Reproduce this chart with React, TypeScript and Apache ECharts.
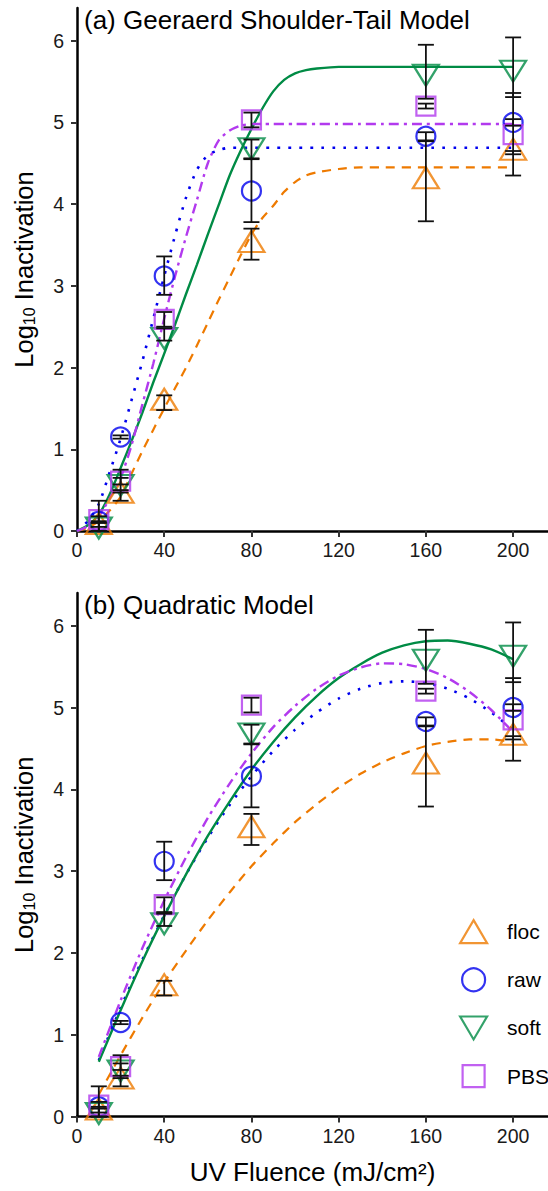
import React, { useEffect, useRef } from "react";
import * as echarts from "echarts";

const FONT = "'Liberation Sans', Arial, Helvetica, sans-serif";

// Observed data (UV fluence, mJ/cm2)
const doses = [10, 20, 40, 80, 160, 200];
const flocMean = [0.05, 0.43, 1.57, 3.5, 4.28, 4.63];
const flocLow = [0.0, 0.37, 1.48, 3.32, 3.79, 4.61];
const flocHigh = [0.1, 0.5, 1.66, 3.7, 4.77, 4.65];
const rawMean = [0.12, 1.15, 3.12, 4.16, 4.83, 5.0];
const rawLow = [0.0, 1.13, 2.89, 3.78, 4.78, 4.96];
const rawHigh = [0.37, 1.17, 3.36, 4.55, 4.88, 5.04];
const softMean = [0.08, 0.6, 2.4, 4.72, 5.62, 5.67];
const softLow = [0.05, 0.47, 2.33, 4.56, 5.29, 5.31];
const softHigh = [0.12, 0.75, 2.48, 4.79, 5.95, 6.04];
const pbsMean = [0.14, 0.61, 2.59, 5.03, 5.2, 4.85];
const pbsLow = [0.1, 0.57, 2.5, 4.94, 5.17, 4.35];
const pbsHigh = [0.18, 0.65, 2.68, 5.12, 5.23, 5.36];

// (a) Geeraerd shoulder-tail fitted curves
const geeX = [0, 5, 10, 15, 20, 25, 30, 35, 40, 45, 50, 55, 60, 65, 70, 75, 80, 85, 90, 95, 100, 105, 110, 120, 130, 140, 160, 180, 200];
const geeFloc = [0, 0.04, 0.12, 0.25, 0.42, 0.7, 0.98, 1.24, 1.5, 1.75, 2.0, 2.27, 2.55, 2.83, 3.1, 3.37, 3.63, 3.83, 3.98, 4.15, 4.27, 4.35, 4.39, 4.43, 4.45, 4.45, 4.45, 4.45, 4.45];
const geeRaw = [0, 0.12, 0.33, 0.72, 1.13, 1.6, 2.08, 2.6, 3.12, 3.62, 4.08, 4.42, 4.6, 4.66, 4.69, 4.69, 4.69, 4.69, 4.69, 4.69, 4.69, 4.69, 4.69, 4.69, 4.69, 4.69, 4.69, 4.69, 4.69];
const geeSoft = [0, 0.07, 0.2, 0.45, 0.77, 1.1, 1.45, 1.82, 2.17, 2.53, 2.9, 3.26, 3.63, 3.99, 4.35, 4.65, 4.92, 5.17, 5.38, 5.52, 5.6, 5.64, 5.66, 5.68, 5.68, 5.68, 5.68, 5.68, 5.68];
const geePbs = [0, 0.06, 0.18, 0.4, 0.65, 1.05, 1.55, 2.05, 2.6, 3.12, 3.6, 4.05, 4.5, 4.78, 4.9, 4.96, 4.98, 4.98, 4.98, 4.98, 4.98, 4.98, 4.98, 4.98, 4.98, 4.98, 4.98, 4.98, 4.98];

// (b) Quadratic fitted curves
const quadX = [10, 20, 30, 40, 50, 60, 70, 80, 90, 100, 110, 120, 130, 140, 150, 160, 170, 180, 190, 200];
const quadFloc = [0.27, 0.75, 1.21, 1.64, 2.03, 2.4, 2.74, 3.06, 3.34, 3.6, 3.82, 4.02, 4.19, 4.33, 4.44, 4.53, 4.58, 4.61, 4.61, 4.58];
const quadRaw = [0.69, 1.33, 1.92, 2.46, 2.96, 3.41, 3.81, 4.16, 4.47, 4.73, 4.94, 5.11, 5.23, 5.3, 5.32, 5.3, 5.23, 5.11, 4.94, 4.73];
const quadSoft = [0.67, 1.3, 1.9, 2.45, 2.96, 3.43, 3.85, 4.24, 4.58, 4.88, 5.14, 5.36, 5.53, 5.67, 5.76, 5.81, 5.82, 5.78, 5.71, 5.59];
const quadPbs = [0.73, 1.42, 2.06, 2.64, 3.17, 3.65, 4.07, 4.44, 4.76, 5.02, 5.23, 5.39, 5.49, 5.54, 5.53, 5.47, 5.36, 5.19, 4.97, 4.7];

const yTicks = [0, 1, 2, 3, 4, 5, 6];
const xTicks = [0, 40, 80, 120, 160, 200];
const groupNames = ["floc", "raw", "soft", "PBS"];

const COLORS: Record<string, string> = {
  floc: "#EE7A00",
  raw: "#0000EE",
  soft: "#008B45",
  PBS: "#B23AEE",
};

const DOWN_TRI = "path://M0,0L20,0L10,17Z";

const pair = (xs: number[], ys: number[]) => xs.map((x, i) => [x, ys[i]]);

export default function App() {
  const ref = useRef<HTMLDivElement>(null);

  useEffect(() => {
    if (!ref.current) return;
    const chart = echarts.init(ref.current, undefined, { renderer: "svg" });

    const means: Record<string, number[]> = { floc: flocMean, raw: rawMean, soft: softMean, PBS: pbsMean };
    const lows: Record<string, number[]> = { floc: flocLow, raw: rawLow, soft: softLow, PBS: pbsLow };
    const highs: Record<string, number[]> = { floc: flocHigh, raw: rawHigh, soft: softHigh, PBS: pbsHigh };
    const symbols: Record<string, any> = {
      floc: { symbol: "triangle", symbolSize: [26, 21], symbolOffset: [0, -3.5] },
      raw: { symbol: "circle", symbolSize: 19, symbolOffset: [0, 0] },
      soft: { symbol: DOWN_TRI, symbolSize: [26, 21], symbolOffset: [0, 3.5] },
      PBS: { symbol: "rect", symbolSize: 19, symbolOffset: [0, 0] },
    };
    const lineTypes: Record<string, any> = {
      floc: { type: [9, 7], width: 2.2 },
      raw: { type: [2.6, 8.4], width: 2.6 },
      soft: { type: "solid", width: 2.4 },
      PBS: { type: [10, 5, 3, 5], width: 2.4 },
    };
    const curves = [
      { floc: geeFloc, raw: geeRaw, soft: geeSoft, PBS: geePbs } as Record<string, number[]>,
      { floc: quadFloc, raw: quadRaw, soft: quadSoft, PBS: quadPbs } as Record<string, number[]>,
    ];
    const curveX = [geeX, quadX];

    const series: any[] = [];
    [0, 1].forEach((p) => {
      groupNames.forEach((g) => {
        series.push({
          type: "line",
          name: g + " fit " + p,
          xAxisIndex: p,
          yAxisIndex: p,
          data: pair(curveX[p], curves[p][g]),
          showSymbol: false,
          symbol: "none",
          smooth: 0.25,
          silent: true,
          z: 2,
          lineStyle: { color: COLORS[g], width: lineTypes[g].width, type: lineTypes[g].type, cap: "butt" },
        });
      });
      groupNames.forEach((g) => {
        series.push({
          type: "scatter",
          name: g,
          xAxisIndex: p,
          yAxisIndex: p,
          data: pair(doses, means[g]),
          ...symbols[g],
          z: 3,
          itemStyle: { color: "rgba(0,0,0,0)", borderColor: COLORS[g], borderWidth: 2.2 },
        });
      });
      const errRows: number[][] = [];
      groupNames.forEach((g) => {
        doses.forEach((d, i) => errRows.push([d, lows[g][i], highs[g][i]]));
      });
      series.push({
        type: "custom",
        name: "err" + p,
        xAxisIndex: p,
        yAxisIndex: p,
        data: errRows,
        encode: { x: 0, y: [1, 2] },
        z: 4,
        silent: true,
        renderItem: (params: any, api: any) => {
          const x = api.value(0);
          const lo = api.coord([x, api.value(1)]);
          const hi = api.coord([x, api.value(2)]);
          const w = 8;
          const style = { stroke: "#111", lineWidth: 1.8, fill: null };
          return {
            type: "group",
            children: [
              { type: "line", shape: { x1: lo[0], y1: lo[1], x2: hi[0], y2: hi[1] }, style },
              { type: "line", shape: { x1: lo[0] - w, y1: lo[1], x2: lo[0] + w, y2: lo[1] }, style },
              { type: "line", shape: { x1: hi[0] - w, y1: hi[1], x2: hi[0] + w, y2: hi[1] }, style },
            ],
          };
        },
      });
    });

    const yAxisCfg = (p: number) => ({
      type: "value",
      gridIndex: p,
      min: 0,
      max: 6.4,
      axisLine: { show: true, onZero: false, lineStyle: { color: "#000", width: 2.5 } },
      axisTick: { show: true, length: 6, lineStyle: { color: "#333", width: 2 }, customValues: yTicks },
      axisLabel: { customValues: yTicks, fontSize: 19.5, color: "#1a1a1a", margin: 13, fontFamily: FONT },
      splitLine: { show: false },
      name: "{a|Log}{b|10}{a| Inactivation}",
      nameLocation: "middle",
      nameGap: 40,
      nameTextStyle: {
        fontFamily: FONT,
        color: "#000",
        fontSize: 25.5,
        rich: {
          a: { fontSize: 25.5, fontFamily: FONT, color: "#000" },
          b: { fontSize: 16, fontFamily: FONT, color: "#000", verticalAlign: "bottom" },
        },
      },
    });

    const xAxisCfg = (p: number) => ({
      type: "value",
      gridIndex: p,
      min: 0,
      max: 216,
      axisLine: { show: true, onZero: false, lineStyle: { color: "#000", width: 2.5 } },
      axisTick: { show: true, length: 6, lineStyle: { color: "#333", width: 2 }, customValues: xTicks },
      axisLabel: { customValues: xTicks, fontSize: 19.5, color: "#1a1a1a", margin: 9, fontFamily: FONT },
      splitLine: { show: false },
      name: p === 1 ? "UV Fluence (mJ/cm²)" : "",
      nameLocation: "middle",
      nameGap: 42,
      nameTextStyle: { fontFamily: FONT, color: "#000", fontSize: 26 },
    });

    chart.setOption({
      animation: false,
      backgroundColor: "#fff",
      textStyle: { fontFamily: FONT },
      grid: [
        { left: 77, top: 8, width: 471, height: 523 },
        { left: 77, top: 593, width: 471, height: 523.6 },
      ],
      xAxis: [xAxisCfg(0), xAxisCfg(1)],
      yAxis: [yAxisCfg(0), yAxisCfg(1)],
      legend: {
        data: [
          { name: "floc" },
          { name: "raw" },
          { name: "soft" },
          { name: "PBS", icon: "path://M0,0M27,23M2.5,0.5H24.5V22.5H2.5Z" },
        ],
        orient: "vertical",
        left: 454,
        top: 914,
        itemWidth: 27,
        itemHeight: 23,
        itemGap: 23,
        selectedMode: false,
        itemStyle: { color: "rgba(0,0,0,0)", borderWidth: 2.2 },
        textStyle: { fontSize: 21, color: "#000", fontFamily: FONT, padding: [0, 0, 0, 15] },
      },
      graphic: [
        {
          type: "text",
          x: 84,
          y: 20,
          style: {
            text: "(a) Geeraerd Shoulder-Tail Model",
            fontSize: 26,
            fontFamily: FONT,
            fill: "#000",
            align: "left",
            verticalAlign: "middle",
          },
        },
        {
          type: "text",
          x: 84,
          y: 605,
          style: {
            text: "(b) Quadratic Model",
            fontSize: 26,
            fontFamily: FONT,
            fill: "#000",
            align: "left",
            verticalAlign: "middle",
          },
        },
      ],
      series,
    });

    return () => chart.dispose();
  }, []);

  return (
    <div
      ref={ref}
      style={{ position: "fixed", left: 0, top: 0, width: 548, height: 1191, background: "#fff" }}
    />
  );
}
